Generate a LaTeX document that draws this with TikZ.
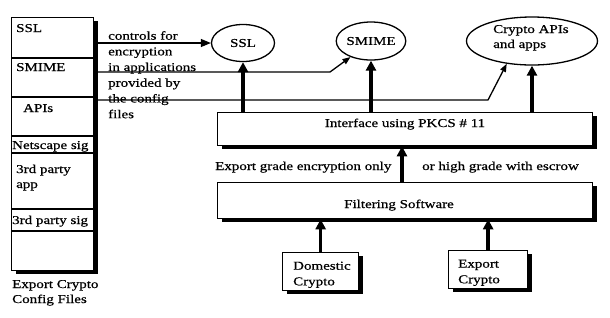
\documentclass[tikz,border=0pt]{standalone}
\usepackage{fontspec}
\setmainfont[FakeStretch=1.25,FakeBold=0.6]{Liberation Serif}
\usetikzlibrary{arrows.meta,shapes.geometric,shadows}
\begin{document}
\begin{tikzpicture}[x=1pt,y=-1pt,
  txt/.style={inner sep=0pt, font=\fontsize{12}{15.7}\selectfont, align=left},
  box/.style={draw, line width=1.3pt, fill=white, inner sep=0pt,
    drop shadow={shadow xshift=4pt, shadow yshift=-3.5pt, fill=black, opacity=1}},
  ell/.style={ellipse, draw, line width=1.3pt, fill=white, inner sep=0pt, font=\fontsize{12}{14}\selectfont, align=center},
  fat/.style={line width=3.6pt, -{Triangle[width=10pt,length=10pt]}},
  thin/.style={line width=1.3pt, -{Triangle[width=6pt,length=8pt]}}
]
\useasboundingbox[fill=white] (0,0) rectangle (610,317);

% left config box
\node[box, minimum width=82pt, minimum height=253pt, anchor=north west] (cfg) at (11,17) {};
\foreach \yy in {58,97,136,153,209,231} \draw[line width=1.3pt] (11,\yy) -- (93,\yy);
\node[txt, anchor=base west] (t1) at (16,32) {SSL};
\node[txt, anchor=base west] (t2) at (16,71) {SMIME};
\node[txt, anchor=base west] (t3) at (23,112) {APIs};
\node[txt, anchor=base west] (t4) at (12,149) {Netscape sig};
\node[txt, anchor=base west] (t5) at (16,173) {3rd party};
\node[txt, anchor=base west] (t6) at (16,188) {app};
\node[txt, anchor=base west] (t7) at (12,224) {3rd party sig};
\node[txt, anchor=base west] (t8) at (12,288) {Export Crypto};
\node[txt, anchor=base west] (t9) at (12,303) {Config Files};

% ellipses
\node[ell, minimum width=63pt, minimum height=37pt] (ssl) at (243,43) {SSL};
\node[ell, minimum width=62pt, minimum height=38pt] (smime) at (371,41) {SMIME};
\node[ell, minimum width=131pt, minimum height=48pt] (capi) at (532,41) {};
\node[txt, anchor=base west] (capit) at (493,33) {Crypto APIs};
\node[txt, anchor=base west] (capit2) at (493,48) {and apps};

% label text
\node[txt, anchor=north west] (ctl) at (108,31) {controls for\\encryption\\in applications\\provided by\\the config\\files};

% thin connectors
\coordinate (c1) at (97,43);
\coordinate (c2) at (97,72);
\coordinate (c2b) at (330,72);
\coordinate (c3) at (97,100);
\coordinate (c3b) at (488,100);
\draw[line width=1.3pt, -{Triangle[width=8pt,length=10pt]}] (c1) -- (ssl.west);
\draw[thin] (c2) -- (c2b) -- (smime.218);
\draw[thin] (c3) -- (c3b) -- (capi.222);

% interface
\node[box, minimum width=375pt, minimum height=33pt, anchor=north west] (iface) at (217,112) {};
\node[txt, anchor=base] (ifacet) at (405,127) {Interface using PKCS \# 11};

% filtering
\node[box, minimum width=375pt, minimum height=36pt, anchor=north west] (filt) at (217,182) {};
\node[txt, anchor=base] (filtt) at (399,208) {Filtering Software};

\node[txt, anchor=base west] (exo) at (215,170) {Export grade encryption only};
\node[txt, anchor=base west] (hge) at (422,170) {or high grade with escrow};

% crypto boxes
\node[box, minimum width=76pt, minimum height=38pt, anchor=north west] (dom) at (282,252) {};
\node[txt, anchor=north west] (domt) at (293,261.5) {Domestic\\Crypto};
\node[box, minimum width=79pt, minimum height=38pt, anchor=north west] (exp) at (448,250) {};
\node[txt, anchor=north west] (expt) at (458,259.5) {Export\\Crypto};

% fat arrows
\draw[fat] (ssl.south |- iface.north) -- (ssl.south);
\draw[fat] (smime.south |- iface.north) -- (smime.south);
\draw[fat] (capi.south |- iface.north) -- (capi.south);
\draw[fat] (filt.north -| 402,0) -- (iface.south -| 402,0);
\draw[fat] (dom.north) -- (dom.north |- filt.south);
\draw[fat] (exp.north) -- (exp.north |- filt.south);
\end{tikzpicture}
\end{document}
